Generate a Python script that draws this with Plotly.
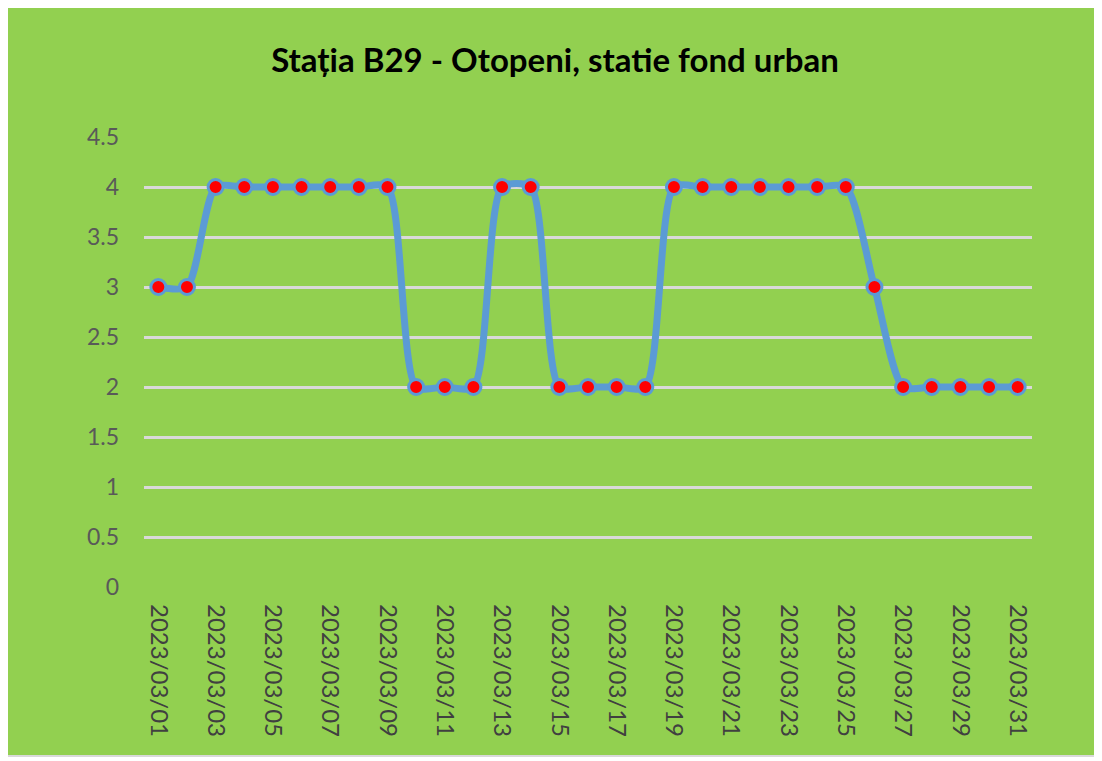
import plotly.graph_objects as go

dates = ["2023/03/%02d" % d for d in range(1, 32)]
values = [3, 3, 4, 4, 4, 4, 4, 4, 4, 2, 2, 2, 4, 4, 2, 2, 2, 2, 4, 4, 4, 4, 4, 4, 4, 3, 2, 2, 2, 2, 2]
tick_labels = dates[::2]
y_ticks = [0, 0.5, 1, 1.5, 2, 2.5, 3, 3.5, 4, 4.5]
y_tick_text = ["0", "0.5", "1", "1.5", "2", "2.5", "3", "3.5", "4", "4.5"]
title_text = "Stația B29 - Otopeni, statie fond urban"

W, H = 1102, 761
OFF = 8  # page body margin
ml, mr, mt, mb = 136, 78, 129, 182

fig = go.Figure()
fig.add_trace(go.Scatter(
    x=list(range(len(dates))), y=values, mode="lines+markers",
    line=dict(color="#5B9BD5", width=7, shape="spline", smoothing=0.7),
    marker=dict(color="#FF0000", size=15, line=dict(color="#5B9BD5", width=3)),
    showlegend=False,
))

pw = W - ml - mr
ph = H - mt - mb
def px_x(p):
    return (p - OFF - ml) / pw
def px_y(p):
    return (H - mb - (p - OFF)) / ph
fig.add_shape(type="rect", xref="paper", yref="paper",
              x0=px_x(7), x1=px_x(1096), y0=px_y(7), y1=px_y(756),
              fillcolor="#92D050", line=dict(color="#D9D9D9", width=2), layer="below")

fig.update_layout(
    width=W, height=H,
    margin=dict(l=ml, r=mr, t=mt, b=mb),
    paper_bgcolor="white", plot_bgcolor="rgba(0,0,0,0)",
    title=dict(text="<b>" + title_text + "</b>", x=(555 - OFF) / W, xref="container",
               xanchor="center", y=1 - (60 - OFF) / H, yref="container", yanchor="middle",
               font=dict(family="Lato", size=33, color="#000000")),
    font=dict(family="Lato", color="#595959"),
)
fig.update_xaxes(
    range=[-0.5, len(dates) - 0.5], tickmode="array",
    tickvals=list(range(0, len(dates), 2)), ticktext=tick_labels,
    tickangle=90, tickfont=dict(size=24, color="#404040", family="Lato"),
    showgrid=False, zeroline=False, showline=False, ticks="", ticklabelstandoff=16,
)
fig.update_yaxes(
    range=[0, 4.5], tickmode="array", tickvals=y_ticks, ticktext=y_tick_text,
    tickfont=dict(size=23, color="#595959", family="Lato"),
    showgrid=True, gridcolor="#D9D9D9", gridwidth=2.5, zeroline=False,
    showline=False, ticks="", ticklabelstandoff=24,
)
fig.write_html("out.html")
